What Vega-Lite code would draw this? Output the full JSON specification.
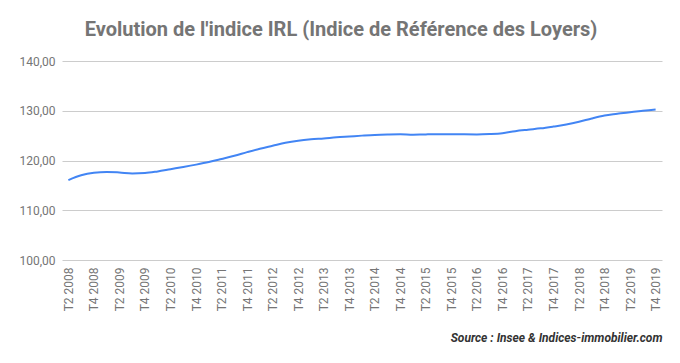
{
  "$schema": "https://vega.github.io/schema/vega-lite/v6.json",
  "width": 600,
  "height": 199,
  "autosize": {"type": "none"},
  "padding": {"left": 62, "top": 61, "right": 18, "bottom": 103},
  "background": "white",
  "config": {
    "font": "Roboto",
    "view": {"stroke": null}
  },
  "title": {
    "text": "Evolution de l'indice IRL (Indice de Référence des Loyers)",
    "font": "Roboto",
    "fontSize": 20,
    "fontWeight": "bold",
    "color": "#757575",
    "frame": "group",
    "anchor": "middle",
    "dx": -21,
    "offset": 15
  },
  "data": {
    "values": [
      {"q": "T2 2008", "v": 116.07}, {"q": "T3 2008", "v": 117.03}, {"q": "T4 2008", "v": 117.54},
      {"q": "T1 2009", "v": 117.70}, {"q": "T2 2009", "v": 117.59}, {"q": "T3 2009", "v": 117.41}, {"q": "T4 2009", "v": 117.47},
      {"q": "T1 2010", "v": 117.81}, {"q": "T2 2010", "v": 118.26}, {"q": "T3 2010", "v": 118.70}, {"q": "T4 2010", "v": 119.17},
      {"q": "T1 2011", "v": 119.69}, {"q": "T2 2011", "v": 120.31}, {"q": "T3 2011", "v": 120.95}, {"q": "T4 2011", "v": 121.68},
      {"q": "T1 2012", "v": 122.37}, {"q": "T2 2012", "v": 122.96}, {"q": "T3 2012", "v": 123.55}, {"q": "T4 2012", "v": 123.97},
      {"q": "T1 2013", "v": 124.25}, {"q": "T2 2013", "v": 124.44}, {"q": "T3 2013", "v": 124.66}, {"q": "T4 2013", "v": 124.83},
      {"q": "T1 2014", "v": 125.00}, {"q": "T2 2014", "v": 125.15}, {"q": "T3 2014", "v": 125.24}, {"q": "T4 2014", "v": 125.29},
      {"q": "T1 2015", "v": 125.19}, {"q": "T2 2015", "v": 125.25}, {"q": "T3 2015", "v": 125.26}, {"q": "T4 2015", "v": 125.28},
      {"q": "T1 2016", "v": 125.26}, {"q": "T2 2016", "v": 125.25}, {"q": "T3 2016", "v": 125.33}, {"q": "T4 2016", "v": 125.50},
      {"q": "T1 2017", "v": 125.90}, {"q": "T2 2017", "v": 126.19}, {"q": "T3 2017", "v": 126.46}, {"q": "T4 2017", "v": 126.82},
      {"q": "T1 2018", "v": 127.22}, {"q": "T2 2018", "v": 127.77}, {"q": "T3 2018", "v": 128.45}, {"q": "T4 2018", "v": 129.03},
      {"q": "T1 2019", "v": 129.38}, {"q": "T2 2019", "v": 129.72}, {"q": "T3 2019", "v": 129.99}, {"q": "T4 2019", "v": 130.26}
    ]
  },
  "mark": {"type": "line", "color": "#4285F4", "strokeWidth": 2, "interpolate": "monotone"},
  "encoding": {
    "x": {
      "field": "q",
      "type": "ordinal",
      "sort": null,
      "scale": {"type": "point", "padding": 0.5},
      "axis": {
        "values": ["T2 2008","T4 2008","T2 2009","T4 2009","T2 2010","T4 2010","T2 2011","T4 2011","T2 2012","T4 2012","T2 2013","T4 2013","T2 2014","T4 2014","T2 2015","T4 2015","T2 2016","T4 2016","T2 2017","T4 2017","T2 2018","T4 2018","T2 2019","T4 2019"],
        "labelAngle": 270,
        "labelFontSize": 12,
        "labelColor": "#757575",
        "labelPadding": 7,
        "ticks": false,
        "domain": false,
        "grid": false,
        "title": "Source : Insee & Indices-immobilier.com",
        "titleAnchor": "end",
        "titleFontSize": 12,
        "titleFontWeight": "bold",
        "titleFontStyle": "italic",
        "titleColor": "#333333",
        "titlePadding": 22
      }
    },
    "y": {
      "field": "v",
      "type": "quantitative",
      "scale": {"domain": [100, 140], "nice": false, "zero": false},
      "axis": {
        "values": [100, 110, 120, 130, 140],
        "labelExpr": "replace(format(datum.value, '.2f'), '.', ',')",
        "labelFontSize": 12,
        "labelColor": "#757575",
        "labelPadding": 7,
        "ticks": false,
        "domain": false,
        "gridColor": "#cccccc",
        "gridWidth": 1,
        "title": null
      }
    }
  }
}
